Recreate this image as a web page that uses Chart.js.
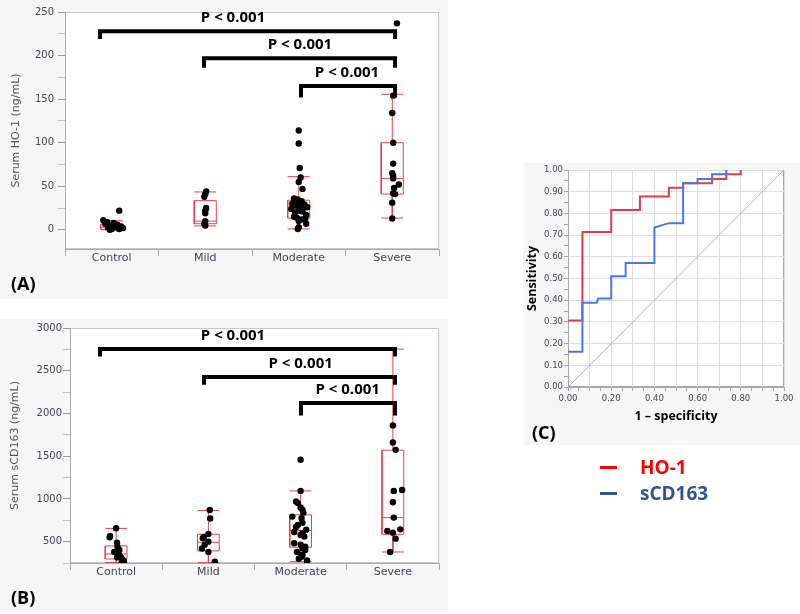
<!DOCTYPE html>
<html>
<head>
<meta charset="utf-8">
<script src="https://cdn.jsdelivr.net/npm/chart.js@4.4.1/dist/chart.umd.min.js"></script>
<style>
  body { margin: 0; background: #fff; width: 800px; height: 614px; position: relative; overflow: hidden; font-family: 'Open Sans', sans-serif; }
  .panel { position: absolute; background: #f6f6f6; }
  .panel canvas { display: block; }
  .tag { position: absolute; font-weight: 700; font-size: 18px; line-height: 20px; color: #000; }
  .key { position: absolute; height: 3px; width: 17px; }
  .keytxt { position: absolute; font-weight: 700; font-size: 19px; line-height: 24px; }
</style>
</head>
<body>
<div class="panel" style="left:0;top:0;width:448px;height:299px"><canvas id="chartA" width="448" height="299"></canvas></div>
<div class="panel" style="left:0;top:319px;width:448px;height:293px"><canvas id="chartB" width="448" height="293"></canvas></div>
<div class="panel" style="left:523px;top:163px;width:277px;height:282px"><canvas id="chartC" width="277" height="282"></canvas></div>
<div class="tag" style="left:11px;top:273px">(A)</div>
<div class="tag" style="left:11px;top:587px">(B)</div>
<div class="tag" style="left:532px;top:422px">(C)</div>
<div class="key" style="left:600px;top:466px;background:#ff0000"></div>
<div class="keytxt" style="left:640px;top:455px;color:#ff0000">HO-1</div>
<div class="key" style="left:600px;top:492px;background:#2f5597"></div>
<div class="keytxt" style="left:640px;top:481px;color:#2f5597">sCD163</div>
<script>
const groups = ['Control', 'Mild', 'Moderate', 'Severe'];

// serum HO-1 (ng/mL), one value per patient
const ho1Control = [22, 11, 9, 8, 7, 6, 5, 4, 3, 3, 2, 1, 1, 0];
const ho1Mild = [44, 41, 38, 25, 22, 19, 10, 7, 5];
const ho1Moderate = [114, 99, 71, 60, 55, 47, 36, 35, 33, 31, 30, 29, 28, 26, 25, 24, 22, 21, 20, 17, 15, 14, 13, 12, 10, 7, 3, 1];
const ho1Severe = [237, 154, 134, 100, 76, 65, 62, 59, 52, 48, 42, 41, 31, 13];
// horizontal spread of the dots (fraction of a group width)
const ho1ControlJit = [0.08, -0.09, -0.05, 0.02, -0.07, 0.06, -0.02, 0.1, 0.03, -0.04, 0.12, 0, 0.08, -0.02];
const ho1MildJit = [0.01, 0, -0.01, 0.01, 0, 0, 0, -0.01, 0];
const ho1ModerateJit = [0, 0, 0.01, 0.02, 0, 0.04, -0.05, -0.01, 0.03, 0, -0.07, 0.06, -0.03, 0.09, 0.02, -0.08, 0, 0.04, -0.04, 0.08, -0.05, -0.02, 0.07, 0.03, 0, 0.08, 0, -0.01];
const ho1SevereJit = [0.05, 0.01, 0, 0.01, 0.01, 0, 0.01, 0.01, 0.07, 0.02, 0.01, 0.03, 0, 0];
// box stats: min, q1, median, q3, max
const ho1Box = [[0, 0.5, 3, 6.5, 10.5], [4.5, 7, 10, 33.5, 43.5], [1, 13.5, 24, 34, 61], [13.5, 41, 59, 100, 155.5]];

// serum sCD163 (ng/mL), panel B
const cdControl = [657, 567, 551, 488, 441, 402, 380, 356, 333, 317, 309, 290, 270, 260];
const cdMild = [870, 770, 590, 555, 540, 500, 465, 420, 380, 265];
const cdModerate = [1458, 1094, 969, 951, 900, 871, 839, 793, 775, 720, 696, 672, 640, 612, 600, 579, 560, 481, 465, 440, 422, 403, 380, 345, 324, 300, 280, 266];
const cdSevere = [1859, 1660, 1574, 1105, 1094, 961, 781, 644, 625, 605, 535, 379];
const cdControlJit = [0, -0.065, -0.07, 0.01, 0.015, 0.035, -0.02, 0.025, 0.04, 0.01, 0.055, 0.07, 0.085, 0.06];
const cdMildJit = [0.015, 0.02, 0, -0.05, -0.06, 0, -0.04, -0.07, 0, 0.07];
const cdModerateJit = [0, 0, -0.05, -0.03, 0, 0.02, 0.03, -0.09, 0.01, 0.02, -0.03, -0.05, 0.06, -0.07, 0.02, 0, 0.04, -0.07, 0, 0.05, 0.02, 0.05, -0.04, 0.02, 0.01, -0.02, 0.07, 0.07];
const cdSevereJit = [0, 0, 0.03, 0.1, 0.01, 0, 0.01, 0.08, -0.06, 0, 0.03, -0.03];
const cdBox = [[255, 297, 356, 450, 655], [254, 391, 493, 587, 865], [266, 434, 629, 813, 1094], [379, 586, 781, 1570, 2753]];

// significance brackets
const bracketLabels = ['P < 0.001', 'P < 0.001', 'P < 0.001'];
const ho1BracketFrom = [-0.126, 0.987, 2.024];
const ho1BracketTo = [3.03, 3.03, 3.03];
const ho1BracketTop = [228, 197, 165];
const ho1BracketLeg = [219, 186, 152];
const ho1BracketText = [1.297, 2.013, 2.516];
const cdBracketFrom = [-0.175, 0.953, 2.004];
const cdBracketTo = [3.023, 3.023, 3.023];
const cdBracketTop = [2754, 2426, 2121];
const cdBracketLeg = [2667, 2336, 1976];
const cdBracketText = [1.267, 2.0, 2.51];

// ROC curves, panel C
const rocHo1Fpr = [0, 0.0667, 0.0667, 0.2, 0.2, 0.333, 0.333, 0.467, 0.467, 0.533, 0.533, 0.667, 0.667, 0.733, 0.733, 0.8, 0.8];
const rocHo1Tpr = [0.306, 0.306, 0.714, 0.714, 0.816, 0.816, 0.878, 0.878, 0.918, 0.918, 0.939, 0.939, 0.959, 0.959, 0.98, 0.98, 1];
const rocCdFpr = [0, 0.0667, 0.0667, 0.133, 0.14, 0.2, 0.2, 0.267, 0.267, 0.4, 0.4, 0.467, 0.533, 0.533, 0.6, 0.6, 0.667, 0.667, 0.733, 0.733];
const rocCdTpr = [0.163, 0.163, 0.388, 0.388, 0.408, 0.408, 0.51, 0.51, 0.571, 0.571, 0.735, 0.755, 0.755, 0.939, 0.939, 0.959, 0.959, 0.98, 0.98, 1];

const RED = '#e8414f';
const TICK_TXT = '#444455';
Chart.defaults.font.family = "'DejaVu Sans', sans-serif";
Chart.defaults.animation = false;

const plotFrame = {
  id: 'plotFrame',
  beforeDraw(chart, args, opts) {
    const { ctx, chartArea: a } = chart;
    ctx.save();
    ctx.fillStyle = '#fff';
    ctx.fillRect(a.left, a.top, a.right - a.left, a.bottom - a.top);
    ctx.strokeStyle = opts.color || '#c8c8c8';
    ctx.lineWidth = 1;
    ctx.strokeRect(Math.round(a.left) + 0.5, Math.round(a.top) + 0.5, Math.round(a.right - a.left) - 1, Math.round(a.bottom - a.top) - 1);
    ctx.restore();
  }
};

const pBrackets = {
  id: 'pBrackets',
  afterDatasetsDraw(chart, args, opts) {
    if (!opts.from) return;
    const { ctx, scales: { x, y } } = chart;
    ctx.save();
    ctx.strokeStyle = '#000';
    ctx.fillStyle = '#000';
    ctx.lineWidth = 4;
    ctx.lineJoin = 'miter';
    ctx.font = "700 15px 'Open Sans'";
    ctx.textAlign = 'center';
    ctx.textBaseline = 'middle';
    opts.from.forEach((f, i) => {
      const x1 = x.getPixelForValue(f), x2 = x.getPixelForValue(opts.to[i]);
      const yt = y.getPixelForValue(opts.top[i]), yl = y.getPixelForValue(opts.leg[i]);
      ctx.beginPath();
      ctx.moveTo(x1, yl);
      ctx.lineTo(x1, yt);
      ctx.lineTo(x2, yt);
      ctx.lineTo(x2, yl);
      ctx.stroke();
      ctx.fillText(opts.labels[i], x.getPixelForValue(opts.textX[i]), yt - 13);
    });
    ctx.restore();
  }
};

function jittered(values, jit, g) {
  return values.map((v, i) => ({ x: g + jit[i], y: v }));
}

function boxOutline(stats, half) {
  const pts = [];
  stats.forEach((s, g) => {
    const [lo, q1, med, q3, hi] = s;
    const a = g - half, b = g + half;
    pts.push({ x: a, y: q1 }, { x: b, y: q1 }, { x: b, y: q3 }, { x: a, y: q3 }, { x: a, y: q1 }, { x: a, y: null });
    pts.push({ x: a, y: med }, { x: b, y: med }, { x: b, y: null });
    pts.push({ x: g, y: q3 }, { x: g, y: hi }, { x: g, y: null });
    pts.push({ x: g, y: q1 }, { x: g, y: lo }, { x: g, y: null });
    pts.push({ x: a, y: hi }, { x: b, y: hi }, { x: b, y: null });
    pts.push({ x: a, y: lo }, { x: b, y: lo }, { x: b, y: null });
  });
  return pts;
}

function groupChart(id, cfg) {
  const points = [].concat(...cfg.values.map((v, g) => jittered(v, cfg.jit[g], g)));
  return new Chart(document.getElementById(id), {
    type: 'scatter',
    data: {
      datasets: [{
        data: points,
        pointRadius: 3.2,
        pointBackgroundColor: '#000',
        pointBorderWidth: 0,
        clip: 0
      }, {
        type: 'line',
        data: boxOutline(cfg.box, 0.118),
        borderColor: RED,
        borderWidth: 1,
        pointRadius: 0,
        spanGaps: false,
        fill: false
      }]
    },
    options: {
      responsive: false,
      devicePixelRatio: 1,
      layout: { padding: { left: 0, right: 9, top: cfg.top, bottom: 0 } },
      plugins: {
        legend: { display: false },
        tooltip: { enabled: false },
        pBrackets: cfg.brackets
      },
      scales: {
        x: {
          type: 'linear',
          min: -0.5,
          max: 3.5,
          afterFit: s => { s.height = cfg.xHeight; },
          border: { color: '#aaa' },
          grid: {
            drawOnChartArea: false,
            tickLength: 7,
            tickColor: c => Number.isInteger(c.tick.value) ? 'rgba(0,0,0,0)' : '#aaa'
          },
          ticks: {
            stepSize: 0.5,
            autoSkip: false,
            maxRotation: 0,
            padding: -4,
            color: TICK_TXT,
            font: { size: 11 },
            callback: v => Number.isInteger(v) ? groups[v] : ''
          }
        },
        y: {
          min: cfg.min,
          max: cfg.max,
          afterFit: s => { s.width = cfg.yWidth; },
          border: { color: '#aaa' },
          title: {
            display: true,
            text: cfg.title,
            color: '#555',
            font: { size: 11 },
            padding: { top: cfg.titlePad, bottom: 0 }
          },
          grid: {
            drawOnChartArea: false,
            tickLength: 7,
            tickColor: c => c.tick.value % cfg.major === 0 ? '#999' : '#c4c4c4'
          },
          ticks: {
            stepSize: cfg.step,
            includeBounds: false,
            autoSkip: false,
            maxTicksLimit: 100,
            padding: cfg.tickPad,
            color: TICK_TXT,
            font: { size: 10 },
            callback: v => v % cfg.major === 0 ? v : ''
          }
        }
      }
    },
    plugins: [plotFrame, pBrackets]
  });
}

groupChart('chartA', {
  values: [ho1Control, ho1Mild, ho1Moderate, ho1Severe],
  jit: [ho1ControlJit, ho1MildJit, ho1ModerateJit, ho1SevereJit],
  box: ho1Box,
  min: -22, max: 250, step: 25, major: 50,
  top: 12, xHeight: 50, yWidth: 65, titlePad: 10, tickPad: 4,
  title: 'Serum HO-1 (ng/mL)',
  brackets: { from: ho1BracketFrom, to: ho1BracketTo, top: ho1BracketTop, leg: ho1BracketLeg, textX: ho1BracketText, labels: bracketLabels }
});

groupChart('chartB', {
  values: [cdControl, cdMild, cdModerate, cdSevere],
  jit: [cdControlJit, cdMildJit, cdModerateJit, cdSevereJit],
  box: cdBox,
  min: 250, max: 3000, step: 250, major: 500,
  top: 9, xHeight: 49, yWidth: 70, titlePad: 9, tickPad: 1,
  title: 'Serum sCD163 (ng/mL)',
  brackets: { from: cdBracketFrom, to: cdBracketTo, top: cdBracketTop, leg: cdBracketLeg, textX: cdBracketText, labels: bracketLabels }
});

const isStep = (v, n) => Math.abs(v * n - Math.round(v * n)) < 1e-6;

new Chart(document.getElementById('chartC'), {
  type: 'scatter',
  data: {
    datasets: [{
      data: rocCdFpr.map((f, i) => ({ x: f, y: rocCdTpr[i] })),
      showLine: true,
      borderColor: '#4a78e0',
      borderWidth: 2,
      pointRadius: 0
    }, {
      data: rocHo1Fpr.map((f, i) => ({ x: f, y: rocHo1Tpr[i] })),
      showLine: true,
      borderColor: '#e03c4c',
      borderWidth: 2,
      pointRadius: 0
    }, {
      data: [{ x: 0, y: 0 }, { x: 1, y: 1 }],
      showLine: true,
      borderColor: '#b4b4b4',
      borderWidth: 1,
      pointRadius: 0
    }]
  },
  options: {
    responsive: false,
    devicePixelRatio: 1,
    layout: { padding: { left: 0, right: 16, top: 7, bottom: 0 } },
    plugins: {
      legend: { display: false },
      tooltip: { enabled: false },
      plotFrame: { color: '#a8a8a8' }
    },
    scales: {
      x: {
        min: 0,
        max: 1,
        afterFit: s => { s.height = 58; },
        border: { color: '#a8a8a8' },
        title: {
          display: true,
          text: '1 – specificity',
          color: '#000',
          font: { family: "'Open Sans'", size: 12.5, weight: '700' },
          padding: { top: 0, bottom: 21 }
        },
        grid: {
          color: c => isStep(c.tick.value, 10) ? '#dedede' : 'rgba(0,0,0,0)',
          tickColor: '#aaa',
          tickLength: 4
        },
        ticks: {
          stepSize: 0.05,
          autoSkip: false,
          maxRotation: 0,
          maxTicksLimit: 100,
          padding: 3,
          color: TICK_TXT,
          font: { size: 8.5 },
          callback: v => isStep(v, 5) ? v.toFixed(2) : ''
        }
      },
      y: {
        min: 0,
        max: 1,
        afterFit: s => { s.width = 45; },
        border: { color: '#a8a8a8' },
        title: {
          display: true,
          text: 'Sensitivity',
          color: '#000',
          font: { family: "'Open Sans'", size: 12.5, weight: '700' },
          padding: { top: 1.5, bottom: 0 }
        },
        grid: {
          color: c => isStep(c.tick.value, 10) ? '#dedede' : 'rgba(0,0,0,0)',
          tickColor: '#aaa',
          tickLength: 4
        },
        ticks: {
          stepSize: 0.05,
          autoSkip: false,
          maxTicksLimit: 100,
          padding: 1,
          color: TICK_TXT,
          font: { size: 8.5 },
          callback: v => isStep(v, 10) ? v.toFixed(2) : ''
        }
      }
    }
  },
  plugins: [plotFrame]
});
</script>
</body>
</html>
